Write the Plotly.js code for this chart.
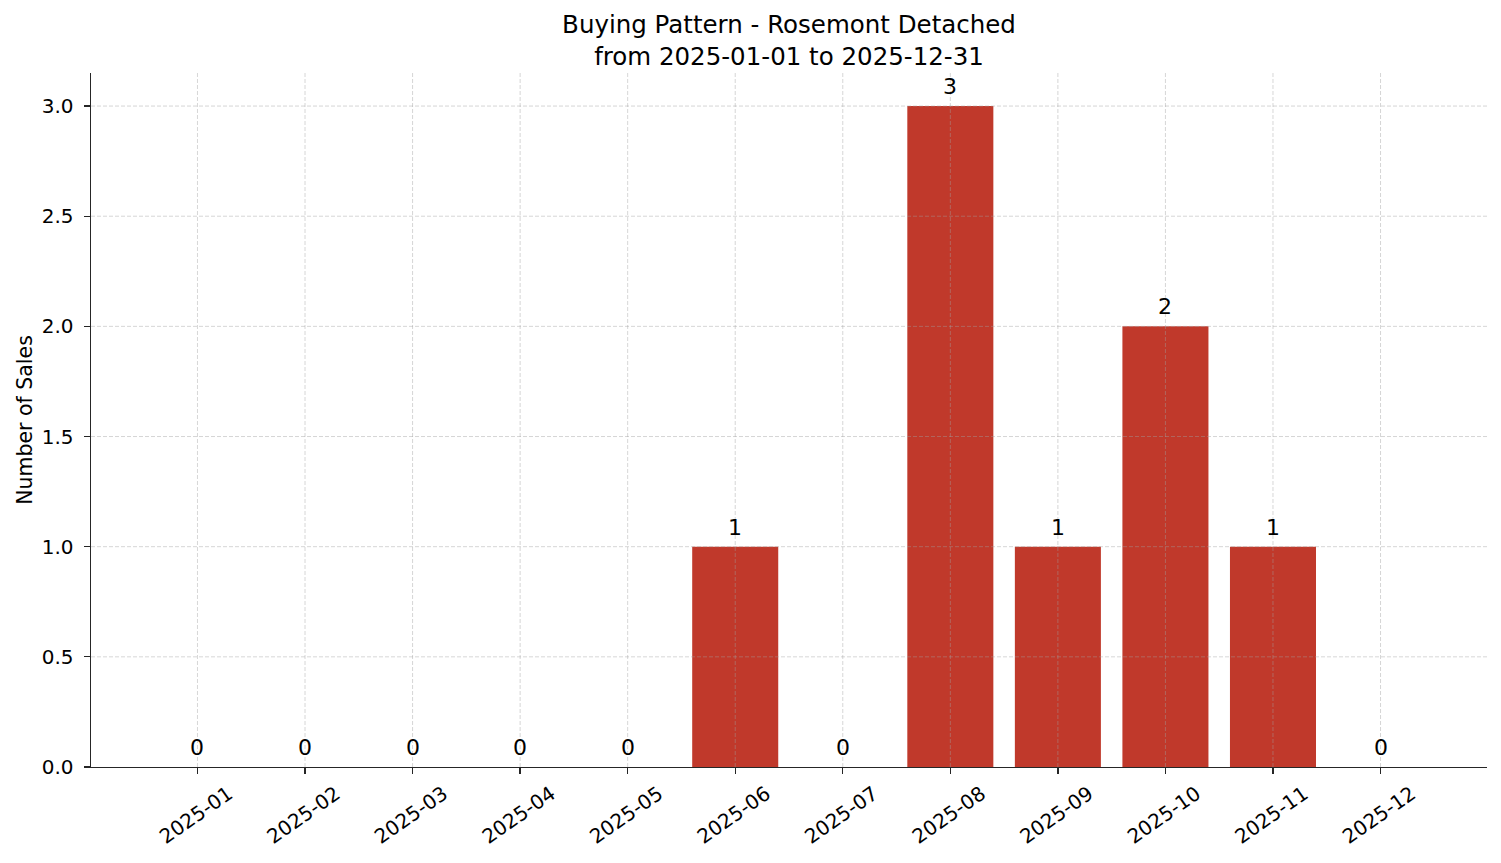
<!DOCTYPE html>
<html>
<head>
<meta charset="utf-8">
<script src="https://cdn.plot.ly/plotly-3.0.1.min.js"></script>
<style>html,body{margin:0;padding:0;background:#fff;}#chart{width:1501px;height:863px;}</style>
</head>
<body>
<div id="chart"></div>
<script>
const months = ["2025-01","2025-02","2025-03","2025-04","2025-05","2025-06","2025-07","2025-08","2025-09","2025-10","2025-11","2025-12"];
const sales = [0,0,0,0,0,1,0,3,1,2,1,0];
const yTicks = [0,0.5,1,1.5,2,2.5,3];
const yTickLabels = ["0.0","0.5","1.0","1.5","2.0","2.5","3.0"];
const chartTitle = "Buying Pattern - Rosemont Detached<br>from 2025-01-01 to 2025-12-31";
const yTitle = "Number of Sales";

const font = "DejaVu Sans, Liberation Sans, sans-serif";
const gridStyle = {color: "rgba(160,160,160,0.55)", width: 0.8, dash: "4px,2px"};

const trace = {
  type: "bar",
  x: months,
  y: sales,
  marker: {color: "#C0392B", line: {width: 0}},
  hoverinfo: "x+y"
};
const annotations = months.map((m, i) => ({
  x: m, y: sales[i], xref: "x", yref: "y",
  text: String(sales[i]), showarrow: false,
  yanchor: "bottom", yshift: 5,
  font: {family: font, size: 22, color: "#000"}
}));
const shapes = [];
months.forEach(m => shapes.push({
  type: "line", layer: "above", xref: "x", yref: "paper",
  x0: m, x1: m, y0: 0, y1: 1, line: gridStyle
}));
yTicks.filter(v => v > 0).forEach(v => shapes.push({
  type: "line", layer: "above", xref: "paper", yref: "y",
  x0: 0, x1: 1, y0: v, y1: v, line: gridStyle
}));

const layout = {
  width: 1501, height: 863,
  paper_bgcolor: "#fff", plot_bgcolor: "#fff",
  margin: {l: 91, r: 14, t: 73, b: 96},
  bargap: 0.2,
  showlegend: false,
  font: {family: font, color: "#000"},
  title: {
    text: chartTitle,
    font: {family: font, size: 24.5, color: "#000"},
    x: 0.5, xref: "paper", xanchor: "center",
    y: 1 - 33/863, yref: "container", yanchor: "top"
  },
  xaxis: {
    type: "category",
    range: [-0.99, 11.99],
    showline: true, linecolor: "#262626", linewidth: 1.4,
    ticks: "outside", ticklen: 6, tickwidth: 1.3, tickcolor: "#262626",
    tickangle: -35,
    ticklabelshift: 31,
    tickfont: {family: font, size: 20, color: "#000"},
    showgrid: false,
    zeroline: false,
    fixedrange: true
  },
  yaxis: {
    range: [0, 3.15],
    tickvals: yTicks, ticktext: yTickLabels,
    showline: true, linecolor: "#262626", linewidth: 1.4,
    ticks: "outside", ticklen: 6, tickwidth: 1.3, tickcolor: "#262626",
    ticklabelstandoff: 6,
    tickfont: {family: font, size: 20, color: "#000"},
    showgrid: false,
    zeroline: false,
    title: {text: yTitle, font: {family: font, size: 20.5, color: "#000"}, standoff: 3},
    fixedrange: true
  },
  shapes: shapes,
  annotations: annotations
};
Plotly.newPlot("chart", [trace], layout, {displayModeBar: false, staticPlot: true});
</script>
</body>
</html>
